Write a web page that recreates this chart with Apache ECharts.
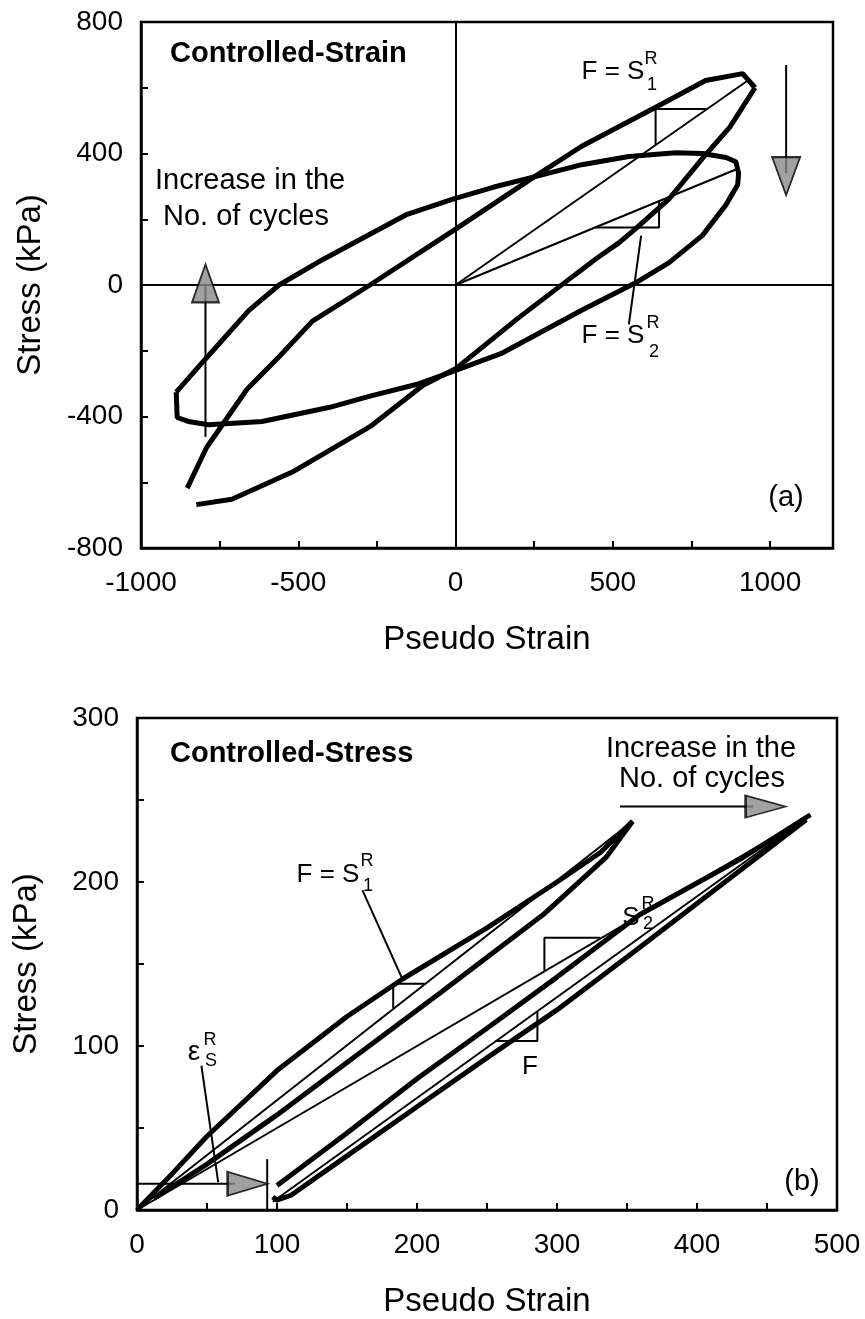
<!DOCTYPE html>
<html>
<head>
<meta charset="utf-8">
<title>Pseudo strain - stress loops</title>
<script src="https://cdn.jsdelivr.net/npm/echarts@6.0.0/dist/echarts.min.js"></script>
<style>
  html, body { margin: 0; padding: 0; background: #fff; }
  #chart { width: 865px; height: 1319px; }
</style>
</head>
<body>
<div id="chart"></div>
<script>
// ---------- (a) controlled-strain ----------
var aLoop1Up = [[-853, -618], [-792, -495], [-663, -317], [-561, -218], [-455, -110], [-272, 0], [-6, 166], [250, 329], [401, 422], [635, 540], [795, 622], [913, 643], [952, 600]];
var aLoop1Down = [[952, 600], [872, 480], [785, 385], [679, 262], [571, 170], [519, 128], [450, 82], [378, 30], [200, -100], [0, -255], [-103, -305], [-272, -431], [-519, -569], [-711, -652], [-824, -668]];
var aLoop2 = [[-888, -326], [-795, -225], [-657, -77], [-561, 0], [-423, 77], [-154, 215], [-6, 262], [122, 298], [250, 329], [401, 366], [551, 391], [700, 402], [785, 400], [860, 388], [891, 375], [900, 340], [897, 305], [859, 243], [785, 151], [679, 68], [571, 6], [401, -77], [144, -209], [-6, -262], [-122, -302], [-272, -338], [-400, -372], [-615, -415], [-785, -425], [-850, -415], [-885, -403], [-888, -326]];
var aSecant1 = [[0, 0], [935, 626]];
var aSlope1 = [[636, 426], [636, 535], [798, 535]];
var aSecant2 = [[0, 0], [893, 352]];
var aSlope2 = [[444, 175], [647, 175], [647, 255]];
var aLeader2 = [[590, 150], [551, -120]];
var aArrowDown = [[1051, 669], [1051, 340]];
var aArrowDownHead = [[1051, 331]];
var aArrowUp = [[-795, -462], [-795, 0]];
var aArrowUpHead = [[-795, 5]];
var aXTicks = [-1000, 1200, 250];   // min, max, tick step
var aYTicks = [-800, 800, 200];

// ---------- (b) controlled-stress ----------
var bLoopAUp = [[0, 0], [25, 22], [50, 45], [100, 85], [150, 118], [190, 141], [250, 172], [300, 200], [331, 218], [354, 237]];
var bLoopADown = [[354, 237], [335, 215], [290, 180], [216, 132], [150, 90], [100, 58], [50, 28], [12, 7]];
var bSecantA = [[0, 0], [354, 237]];
var bSlopeA = [[183, 123], [183, 138], [206, 138]];
var bLeaderA = [[161, 195], [190, 140]];
var bLoopBUp = [[100, 15], [150, 47], [200, 80], [252, 112], [300, 142], [359, 180], [431, 214], [481, 241]];
var bLoopBDown = [[478, 238], [420, 200], [359, 160], [300, 122], [252, 94], [200, 63], [150, 33], [110, 9], [100, 6], [97, 8]];
var bSecantB = [[97, 5], [481, 241]];
var bSlopeB = [[256, 103], [286, 103], [286, 121]];
var bSecantS2 = [[0, 0], [480, 240]];
var bSlopeS2 = [[291, 146], [291, 166], [331, 166]];
var bResidual = [[0, 16], [70, 16]];
var bResidualHead = [[79, 16]];
var bResidualBar = [[93, 0], [93, 31]];
var bLeaderEps = [[46, 88], [58, 17]];
var bArrow = [[345, 246], [440, 246]];
var bArrowHead = [[449, 246]];
var bXTicks = [0, 500, 50];
var bYTicks = [0, 300, 50];

var FONT = "'Liberation Sans', Arial, Helvetica, sans-serif";

function line(idx, data, width) {
  return {
    type: "line",
    xAxisIndex: idx,
    yAxisIndex: idx,
    data: data,
    symbol: "none",
    silent: true,
    lineStyle: { color: "#000", width: width },
    z: 3
  };
}

function head(idx, data, size, rotate) {
  return {
    type: "scatter",
    xAxisIndex: idx,
    yAxisIndex: idx,
    data: data,
    symbol: "triangle",
    symbolSize: size,
    symbolRotate: rotate,
    silent: true,
    itemStyle: { color: "#8a8a8a", borderColor: "#000", borderWidth: 2 },
    z: 5
  };
}

function xAxis(idx, ticks, labelStep) {
  return {
    type: "value",
    gridIndex: idx,
    min: ticks[0],
    max: ticks[1],
    interval: ticks[2],
    name: "Pseudo Strain",
    nameLocation: "middle",
    nameGap: 75,
    nameTextStyle: { color: "#000", fontSize: 33, fontFamily: FONT },
    axisLine: { show: true, onZero: false, lineStyle: { color: "#000", width: 2.5 } },
    axisTick: { show: true, inside: true, length: 7, lineStyle: { color: "#000", width: 2 } },
    axisLabel: {
      color: "#000",
      fontSize: 28,
      fontFamily: FONT,
      margin: 21,
      showMaxLabel: ticks[1] % labelStep === 0,
      formatter: function (v) { return v % labelStep === 0 ? String(v) : ""; }
    },
    splitLine: { show: false }
  };
}

function yAxis(idx, ticks, labelStep) {
  return {
    type: "value",
    gridIndex: idx,
    min: ticks[0],
    max: ticks[1],
    interval: ticks[2],
    name: "Stress (kPa)",
    nameLocation: "middle",
    nameGap: 94,
    nameTextStyle: { color: "#000", fontSize: 33, fontFamily: FONT },
    axisLine: { show: true, onZero: false, lineStyle: { color: "#000", width: 2.5 } },
    axisTick: { show: true, inside: true, length: 7, lineStyle: { color: "#000", width: 2 } },
    axisLabel: {
      color: "#000",
      fontSize: 28,
      fontFamily: FONT,
      margin: 18,
      formatter: function (v) { return v % labelStep === 0 ? String(v) : ""; }
    },
    splitLine: { show: false }
  };
}

function txt(x, y, s, size, opts) {
  opts = opts || {};
  return {
    type: "text",
    x: x,
    y: y,
    silent: true,
    z: 10,
    style: {
      text: s,
      fill: "#000",
      font: (opts.bold ? "bold " : "") + size + "px " + FONT,
      textAlign: opts.align || "center",
      textVerticalAlign: "middle"
    }
  };
}

var zeroLines = line(0, aLoop2, 5);
zeroLines.markLine = {
  silent: true,
  symbol: ["none", "none"],
  label: { show: false },
  lineStyle: { color: "#000", width: 2, type: "solid" },
  data: [{ xAxis: 0 }, { yAxis: 0 }]
};

var myChart = echarts.init(document.getElementById("chart"), null, { renderer: "canvas" });

var option = {
  backgroundColor: "#fff",
  animation: false,
  grid: [
    { left: 141, top: 22, width: 692, height: 526, show: true, borderColor: "#000", borderWidth: 2.5, containLabel: false },
    { left: 137, top: 718, width: 700, height: 497, show: true, borderColor: "#000", borderWidth: 2.5, containLabel: false }
  ],
  xAxis: [xAxis(0, aXTicks, 500), xAxis(1, bXTicks, 100)],
  yAxis: [yAxis(0, aYTicks, 400), yAxis(1, bYTicks, 100)],
  series: [
    // (a)
    zeroLines,
    line(0, aLoop1Up, 5),
    line(0, aLoop1Down, 5),
    line(0, aSecant1, 2),
    line(0, aSlope1, 2),
    line(0, aSecant2, 2),
    line(0, aSlope2, 2),
    line(0, aLeader2, 2),
    line(0, aArrowDown, 2),
    head(0, aArrowDownHead, [28, 38], 180),
    line(0, aArrowUp, 2),
    head(0, aArrowUpHead, [27, 38], 0),
    // (b)
    line(1, bLoopAUp, 5),
    line(1, bLoopADown, 5),
    line(1, bSecantA, 2),
    line(1, bSlopeA, 2),
    line(1, bLeaderA, 2),
    line(1, bLoopBUp, 5),
    line(1, bLoopBDown, 5),
    line(1, bSecantB, 2),
    line(1, bSlopeB, 2),
    line(1, bSecantS2, 2),
    line(1, bSlopeS2, 2),
    line(1, bResidual, 2),
    head(1, bResidualHead, [24, 40], -90),
    line(1, bResidualBar, 2),
    line(1, bLeaderEps, 2),
    line(1, bArrow, 2),
    head(1, bArrowHead, [22, 40], -90)
  ],
  graphic: [
    // (a) annotations
    txt(170, 54, "Controlled-Strain", 29, { bold: true, align: "left" }),
    txt(155, 181, "Increase in the", 29, { align: "left" }),
    txt(163, 217, "No. of cycles", 29, { align: "left" }),
    txt(613, 72, "F = S", 26),
    txt(651, 59, "R", 18),
    txt(652, 85, "1", 18),
    txt(613, 336, "F = S", 26),
    txt(653, 323, "R", 18),
    txt(654, 352, "2", 18),
    txt(786, 498, "(a)", 29),
    // (b) annotations
    txt(170, 754, "Controlled-Stress", 29, { bold: true, align: "left" }),
    txt(701, 749, "Increase in the", 29),
    txt(702, 779, "No. of cycles", 29),
    txt(328, 875, "F = S", 26),
    txt(367, 861, "R", 18),
    txt(368, 886, "1", 18),
    txt(631, 918, "S", 26),
    txt(648, 904, "R", 18),
    txt(648, 924, "2", 18),
    txt(194, 1052, "ε", 28),
    txt(210, 1040, "R", 18),
    txt(211, 1061, "S", 18),
    txt(530, 1067, "F", 26),
    txt(802, 1182, "(b)", 29)
  ]
};

myChart.setOption(option);
</script>
</body>
</html>
